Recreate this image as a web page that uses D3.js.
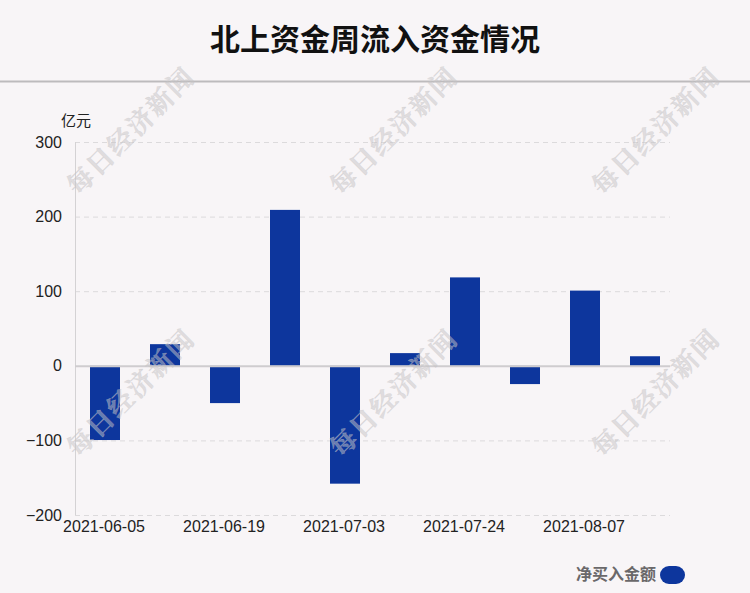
<!DOCTYPE html>
<html><head><meta charset="utf-8">
<script src="https://cdn.jsdelivr.net/npm/d3@7"></script>
<style>html,body{margin:0;padding:0;background:#f8f5f7;}svg{display:block;}</style>
</head><body>
<script>
const categories = ["2021-06-05","2021-06-12","2021-06-19","2021-06-26","2021-07-03","2021-07-17","2021-07-24","2021-07-31","2021-08-07","2021-08-14"];
const values = [-99.5, 29, -50, 209, -158, 17, 118.5, -24.5, 100.8, 12.8];
const yTicks = [300, 200, 100, 0, -100, -200];
const xTickLabels = ["2021-06-05","2021-06-19","2021-07-03","2021-07-24","2021-08-07"];
const title = "北上资金周流入资金情况";
const unit = "亿元";
const seriesName = "净买入金额";
const watermark = "每日经济新闻";

(function(){
const W = 750, H = 593;
const svg = d3.select("body").append("svg").attr("width", W).attr("height", H);
svg.append("rect").attr("width", W).attr("height", H).attr("fill", "#f8f5f7");

const font = "'Noto Sans CJK SC', 'Liberation Sans', Arial, sans-serif";

// title
svg.append("text").attr("x", 375).attr("y", 50).attr("text-anchor", "middle")
  .attr("font-family", font).attr("font-weight", "bold").attr("font-size", 30)
  .attr("fill", "#111").text(title);
svg.append("line").attr("x1", 0).attr("x2", W).attr("y1", 81.5).attr("y2", 81.5)
  .attr("stroke", "#bdbbbd").attr("stroke-width", 2);

const pL = 75, pR = 675, pT = 142, pB = 515;
const x = d3.scaleBand().domain(categories).range([pL, pR]).paddingInner(0.5).paddingOuter(0.25);
const y = d3.scaleLinear().domain([-200, 300]).range([pB, pT]);

// grid
svg.append("g").selectAll("line").data(yTicks.filter(t => t !== 0)).join("line")
  .attr("x1", pL).attr("x2", pR - 5).attr("y1", d => y(d) + 0.5).attr("y2", d => y(d) + 0.5)
  .attr("stroke", "#dcdadc").attr("stroke-dasharray", "5,4");

// y axis line
svg.append("line").attr("x1", pL + 0.5).attr("x2", pL + 0.5).attr("y1", pT).attr("y2", pB)
  .attr("stroke", "#d4d2d4").attr("stroke-width", 1);

// y axis labels
const yAxis = d3.axisLeft(y).tickValues(yTicks).tickSize(0).tickPadding(13);
const gy = svg.append("g").attr("transform", `translate(${pL},0)`).call(yAxis);
gy.select(".domain").remove();
gy.selectAll("text").attr("font-family", "'Liberation Sans', Arial, sans-serif").attr("font-size", 16).attr("fill", "#222");

svg.append("text").attr("x", 61).attr("y", 126).attr("font-family", font).attr("font-size", 15)
  .attr("fill", "#222").text(unit);

// bars
svg.append("g").selectAll("rect").data(values).join("rect")
  .attr("x", (d, i) => x(categories[i]))
  .attr("width", x.bandwidth())
  .attr("y", d => y(Math.max(0, d)))
  .attr("height", d => Math.abs(y(d) - y(0)))
  .attr("fill", "#0d369d");

// zero line
svg.append("line").attr("x1", pL).attr("x2", pR - 5).attr("y1", y(0) + 0.5).attr("y2", y(0) + 0.5)
  .attr("stroke", "#cfcccf").attr("stroke-width", 2);

// x axis labels
const xAxis = d3.axisBottom(x).tickValues(xTickLabels).tickSize(0).tickPadding(6);
const gx = svg.append("g").attr("transform", `translate(0,${pB})`).call(xAxis);
gx.select(".domain").remove();
gx.selectAll("text").attr("font-family", "'Liberation Sans', Arial, sans-serif").attr("font-size", 16).attr("fill", "#222")
  .attr("dx", -1);

// watermarks (on top)
const wmPos = [[131,131],[394,131],[656,131],[131,393],[394,393],[656,393]];
svg.append("g").selectAll("text").data(wmPos).join("text")
  .attr("transform", d => `translate(${d[0]},${d[1]}) rotate(-45)`)
  .attr("text-anchor", "middle").attr("dy", "0.35em")
  .attr("font-family", "'Noto Serif CJK SC', 'Noto Sans CJK SC', serif")
  .attr("font-weight", "bold").attr("font-size", 26)
  .attr("fill", "#c6c4c6").attr("fill-opacity", 0.5)
  .attr("stroke", "#c6c4c6").attr("stroke-opacity", 0.5).attr("stroke-width", 0.4)
  .attr("letter-spacing", 2)
  .text(watermark);

// legend
svg.append("text").attr("x", 656).attr("y", 580).attr("text-anchor", "end")
  .attr("font-family", font).attr("font-weight", "bold").attr("font-size", 16)
  .attr("fill", "#6a686a").text(seriesName);
svg.append("rect").attr("x", 660).attr("y", 566).attr("width", 25).attr("height", 18)
  .attr("rx", 9).attr("ry", 9).attr("fill", "#0d369d");
})();
</script>
</body></html>
